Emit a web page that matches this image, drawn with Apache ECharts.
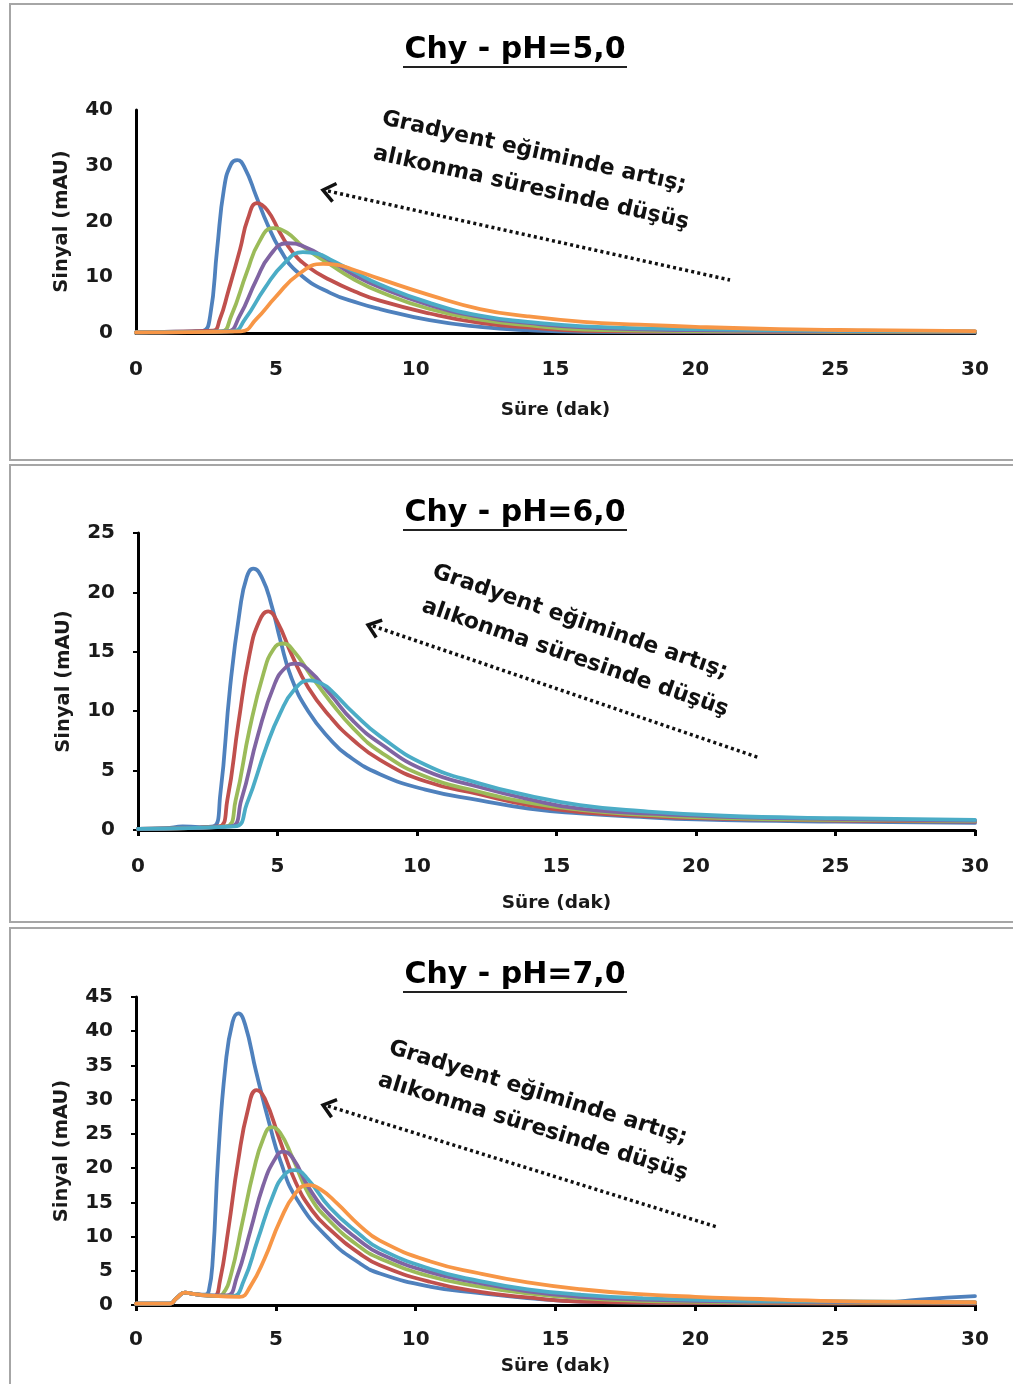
<!DOCTYPE html>
<html>
<head>
<meta charset="utf-8">
<script src="https://cdn.jsdelivr.net/npm/echarts@6/dist/echarts.min.js"></script>
<style>
html,body{margin:0;padding:0;background:#fff;}
#c{width:1013px;height:1384px;}
</style>
</head>
<body>
<div id="c"></div>
<script>
// ---------- DATA ----------
const titles = ['Chy - pH=5,0', 'Chy - pH=6,0', 'Chy - pH=7,0'];
const xName = 'Süre (dak)';
const yName = 'Sinyal (mAU)';
const noteLine1 = 'Gradyent eğiminde artış;';
const noteLine2 = 'alıkonma süresinde düşüş';
const xTicks = [0, 5, 10, 15, 20, 25, 30];
const yMax = [40, 25, 45];
const yStep = [10, 5, 5];

// pH 5,0 chromatograms [time (min), signal (mAU)]
const ph5_blue = [[0,0.1],[1,0.2],[2,0.3],[2.4,0.4],[2.65,3],[2.9,15],[3.15,26],[3.4,30.3],[3.62,31],[3.9,29.5],[4.3,24.5],[4.7,19.5],[5.15,15],[5.8,10.8],[6.94,7.2],[8,5.3],[8.72,4.3],[10.5,2.3],[12.3,1.1],[14,0.5],[16,0.2],[20,0.15],[25,0.1],[30,0.1]];
const ph5_red = [[0,0.1],[2,0.3],[2.75,0.4],[3.0,2.5],[3.3,7.5],[3.72,15],[4.0,20.5],[4.33,23.3],[4.7,22],[5.15,18],[5.6,14.5],[6.2,11.7],[6.94,9.5],[7.8,7.5],[8.72,5.8],[10.5,3.5],[12.3,1.8],[14,1.0],[16,0.4],[20,0.25],[25,0.2],[30,0.15]];
const ph5_green = [[0,0.1],[2,0.2],[3.05,0.3],[3.4,3],[3.97,11],[4.4,16.3],[4.9,18.8],[5.4,18],[5.97,15.5],[6.94,12.3],[7.8,9.6],[8.72,7.4],[10.5,4.3],[12.3,2.4],[14,1.4],[16,0.6],[20,0.35],[25,0.25],[30,0.2]];
const ph5_purple = [[0,0.1],[3.25,0.3],[3.7,3],[4.3,9.5],[4.8,14],[5.4,16.1],[6,15.5],[6.94,13],[7.8,10.4],[8.72,8.2],[10.5,5],[12.3,2.9],[14,1.8],[16,1],[20,0.5],[25,0.35],[30,0.25]];
const ph5_cyan = [[0,0.1],[3.45,0.3],[3.9,2.5],[4.6,8],[5.3,12.5],[5.97,14.5],[6.5,14.2],[6.94,13.2],[7.8,11],[8.72,8.7],[10.5,5.4],[12.3,3.1],[14,2],[16,1.2],[20,0.7],[25,0.4],[30,0.3]];
const ph5_orange = [[0,0.1],[3.75,0.3],[4.3,2.5],[5,6.5],[5.8,10.5],[6.69,12.4],[7.2,12.2],[7.8,11.3],[8.72,9.7],[10.5,6.8],[12.3,4.3],[14,3],[16,2.0],[18,1.5],[20,1.1],[23,0.7],[26,0.5],[30,0.35]];

// pH 6,0 chromatograms
const ph6_blue = [[0,0.1],[1,0.15],[1.6,0.3],[2.2,0.25],[2.7,0.3],[2.95,3],[3.3,12],[3.65,18.5],[3.9,21.3],[4.13,22],[4.45,21.2],[4.8,18.8],[5.1,16],[5.5,12.8],[6.1,10],[6.9,7.6],[7.5,6.3],[8.67,4.7],[10.3,3.4],[12.26,2.5],[14,1.8],[15.84,1.4],[18,1.1],[20,0.9],[25,0.7],[30,0.6]];
const ph6_red = [[0,0.1],[2.9,0.3],[3.2,2.5],[3.6,9],[4.0,14.8],[4.35,17.6],[4.67,18.4],[5.0,17.5],[5.5,14.8],[6.1,12],[6.9,9.5],[7.7,7.6],[8.67,5.9],[10.3,4.1],[12.26,3],[14,2.1],[15.84,1.5],[18,1.2],[20,1.0],[25,0.8],[30,0.7]];
const ph6_green = [[0,0.1],[3.15,0.3],[3.5,2.5],[4.0,8.5],[4.5,13.2],[4.85,15.2],[5.2,15.7],[5.6,15],[6.2,13],[6.9,10.8],[7.7,8.6],[8.67,6.6],[10.3,4.5],[12.26,3.2],[14,2.3],[15.84,1.7],[18,1.3],[21,1.0],[25,0.85],[30,0.75]];
const ph6_purple = [[0,0.1],[3.3,0.3],[3.7,2.5],[4.3,8],[4.9,12.3],[5.3,13.7],[5.63,14],[6.1,13.5],[6.9,11.4],[7.7,9.2],[8.67,7.3],[10.3,5],[12.26,3.6],[14,2.6],[15.84,1.8],[19,1.3],[23,1.0],[30,0.8]];
const ph6_cyan = [[0,0.1],[3.45,0.3],[3.9,2.2],[4.6,7],[5.09,9.8],[5.6,11.8],[6.16,12.6],[6.6,12.3],[6.9,11.8],[7.7,9.9],[8.67,7.9],[10.3,5.5],[12.26,3.9],[14,2.9],[15.84,2.1],[18,1.6],[21,1.2],[25,1],[30,0.85]];

// pH 7,0 chromatograms
const ph7_blue = [[0,0.2],[1.2,0.2],[1.45,1.0],[1.75,1.8],[2.1,1.6],[2.45,1.5],[2.6,2],[2.75,7],[2.94,21.7],[3.2,35],[3.45,41.3],[3.66,42.6],[3.9,41],[4.3,34],[4.8,26],[5.15,21.2],[5.75,15.5],[6.94,9.5],[8,6.1],[8.72,4.6],[10.5,2.7],[12.3,1.75],[14,1.0],[15.9,0.5],[20,0.3],[24,0.25],[26.5,0.3],[28,0.8],[30,1.3]];
const ph7_red = [[0,0.2],[1.2,0.2],[1.45,1.0],[1.75,1.8],[2.1,1.6],[2.5,1.4],[2.8,1.3],[3.0,3.5],[3.3,11],[3.65,21],[4.0,28.5],[4.31,31.4],[4.6,30.2],[5.15,24],[5.7,18],[6.3,13.8],[6.94,11.0],[8,7.5],[8.72,5.8],[10.5,3.4],[12.3,1.9],[14,1.1],[15.9,0.5],[20,0.3],[25,0.25],[30,0.2]];
const ph7_green = [[0,0.2],[1.2,0.2],[1.45,1.0],[1.75,1.8],[2.1,1.6],[2.5,1.4],[2.9,1.3],[3.1,1.6],[3.4,4.5],[3.8,12],[4.2,19.5],[4.55,24.3],[4.86,26],[5.15,25.2],[5.6,21.5],[6.2,16],[6.94,12.2],[8,8.5],[8.72,6.8],[10.5,4.2],[12.3,2.7],[14,1.7],[15.9,1.0],[18,0.6],[22,0.4],[30,0.3]];
const ph7_purple = [[0,0.2],[1.2,0.2],[1.45,1.0],[1.75,1.8],[2.1,1.6],[2.5,1.4],[3.25,1.4],[3.6,4],[4.1,11],[4.55,17.5],[4.95,21.2],[5.26,22.4],[5.6,21.5],[6.2,17],[6.94,13.1],[8,9.4],[8.72,7.5],[10.5,4.8],[12.3,3.2],[14,2.0],[15.9,1.2],[18,0.8],[22,0.5],[30,0.35]];
const ph7_cyan = [[0,0.2],[1.2,0.2],[1.45,1.0],[1.75,1.8],[2.1,1.6],[2.5,1.4],[3.45,1.3],[3.85,3.5],[4.35,9.5],[4.9,16],[5.3,19],[5.68,19.7],[6.1,18.6],[6.94,14.2],[8,10.3],[8.72,8.2],[10.5,5.3],[12.3,3.5],[14,2.3],[15.9,1.5],[18,1.0],[22,0.6],[30,0.4]];
const ph7_orange = [[0,0.2],[1.2,0.2],[1.45,1.0],[1.75,1.8],[2.1,1.6],[2.5,1.4],[3.7,1.2],[4.1,2.8],[4.6,6.8],[5.15,12.3],[5.7,16.3],[6.16,17.5],[6.6,16.9],[7.2,14.8],[8,11.6],[8.72,9.4],[10.5,6.4],[12.3,4.6],[14,3.3],[15.9,2.3],[18,1.6],[20,1.2],[23,0.8],[26,0.5],[30,0.4]];

const panelSeries = [
  [ph5_blue, ph5_red, ph5_green, ph5_purple, ph5_cyan, ph5_orange],
  [ph6_blue, ph6_red, ph6_green, ph6_purple, ph6_cyan],
  [ph7_blue, ph7_red, ph7_green, ph7_purple, ph7_cyan, ph7_orange]
];

// ---------- STYLE / LAYOUT ----------
const colors = ['#4F81BD', '#C0504D', '#9BBB59', '#8064A2', '#4BACC6', '#F79646'];
const FONT = '"DejaVu Sans", sans-serif';
const W = 1013, H = 1384;
const grids = [
  {left: 136, top: 110, width: 839, height: 223, xNameGap: 68, showTicks: false, labelMargin: 27},
  {left: 138, top: 533, width: 837, height: 297, xNameGap: 64, showTicks: true, labelMargin: 27},
  {left: 136, top: 997, width: 839, height: 308, xNameGap: 52, showTicks: true, labelMargin: 25}
];
const boxes = [[10, 4, 1010, 456], [10, 465, 1010, 457], [10, 928, 1010, 462]];
const titleY = [50, 513, 975];
const notes = [
  {l1: [534, 152], l2: [531, 188], rot: 12.5, tip: [323, 190], tail: [730, 280]},
  {l1: [580, 622], l2: [575, 658], rot: 19, tip: [368, 625], tail: [760, 758]},
  {l1: [538, 1093], l2: [533, 1127], rot: 17, tip: [323, 1105], tail: [717, 1227]}
];

const option = {
  animation: false,
  backgroundColor: '#fff',
  grid: [], xAxis: [], yAxis: [], series: [], graphic: []
};

grids.forEach((g, i) => {
  option.grid.push({left: g.left, top: g.top, width: g.width, height: g.height, containLabel: false});
  option.xAxis.push({
    type: 'value', gridIndex: i, min: 0, max: 30, interval: 5,
    name: xName, nameLocation: 'middle', nameGap: g.xNameGap,
    nameTextStyle: {fontFamily: FONT, fontWeight: 'bold', fontSize: 18.5, color: '#1a1a1a'},
    axisLine: {show: true, onZero: false, lineStyle: {color: '#000', width: 3}},
    axisTick: {show: g.showTicks, length: 6, lineStyle: {color: '#000', width: 3}},
    splitLine: {show: false},
    axisLabel: {fontFamily: FONT, fontWeight: 'bold', fontSize: 20, color: '#1a1a1a', margin: g.labelMargin,
      formatter: v => (xTicks.indexOf(v) >= 0 ? String(v) : '')}
  });
  option.yAxis.push({
    type: 'value', gridIndex: i, min: 0, max: yMax[i], interval: yStep[i],
    name: yName, nameLocation: 'middle', nameGap: 64,
    nameTextStyle: {fontFamily: FONT, fontWeight: 'bold', fontSize: 19.5, color: '#1a1a1a'},
    axisLine: {show: true, lineStyle: {color: '#000', width: 3}},
    axisTick: {show: g.showTicks, length: 5, lineStyle: {color: '#000', width: 2}},
    splitLine: {show: false},
    axisLabel: {fontFamily: FONT, fontWeight: 'bold', fontSize: 20, color: '#1a1a1a', margin: 23}
  });
  panelSeries[i].forEach((data, k) => {
    option.series.push({
      type: 'line', xAxisIndex: i, yAxisIndex: i, data: data,
      smooth: 0.5, showSymbol: false, symbol: 'none',
      lineStyle: {color: colors[k], width: 3.8, cap: 'round', join: 'round'}, itemStyle: {color: colors[k]}
    });
  });

  // panel frame
  const b = boxes[i];
  option.graphic.push({type: 'rect', z: -10, shape: {x: b[0], y: b[1], width: b[2], height: b[3]},
    style: {fill: 'none', stroke: '#a6a6a6', lineWidth: 2}});
  // title + underline
  option.graphic.push({type: 'text', x: 515, y: titleY[i], z: 10,
    style: {text: titles[i], font: 'bold 30px ' + FONT, fill: '#000',
      textAlign: 'center', textVerticalAlign: 'middle', align: 'center', verticalAlign: 'middle'}});
  option.graphic.push({type: 'line', z: 10, shape: {x1: 403, y1: titleY[i] + 17, x2: 627, y2: titleY[i] + 17},
    style: {stroke: '#222', lineWidth: 2}});
  // annotation text
  const n = notes[i];
  const rad = -n.rot * Math.PI / 180;
  [[noteLine1, n.l1], [noteLine2, n.l2]].forEach(([t, p]) => {
    option.graphic.push({type: 'text', x: p[0], y: p[1], rotation: rad, z: 10,
      style: {text: t, font: 'bold 22px ' + FONT, fill: '#111',
        textAlign: 'center', textVerticalAlign: 'middle', align: 'center', verticalAlign: 'middle'}});
  });
  // dotted arrow
  option.graphic.push({type: 'line', z: 10, shape: {x1: n.tip[0] + 5, y1: n.tip[1] + 1, x2: n.tail[0], y2: n.tail[1]},
    style: {stroke: '#111', lineWidth: 3.5, lineDash: [3, 3.2]}});
  const dx = n.tail[0] - n.tip[0], dy = n.tail[1] - n.tip[1];
  const len = Math.hypot(dx, dy), ux = dx / len, uy = dy / len;
  const a = 38 * Math.PI / 180, L = 15;
  const arm = s => [n.tip[0] + L * (ux * Math.cos(s * a) - uy * Math.sin(s * a)),
                    n.tip[1] + L * (ux * Math.sin(s * a) + uy * Math.cos(s * a))];
  option.graphic.push({type: 'polyline', z: 10, shape: {points: [arm(1), n.tip, arm(-1)]},
    style: {stroke: '#111', lineWidth: 3.5, fill: 'none'}});
});

const chart = echarts.init(document.getElementById('c'), null, {renderer: 'canvas', width: W, height: H});
chart.setOption(option);
</script>
</body>
</html>
